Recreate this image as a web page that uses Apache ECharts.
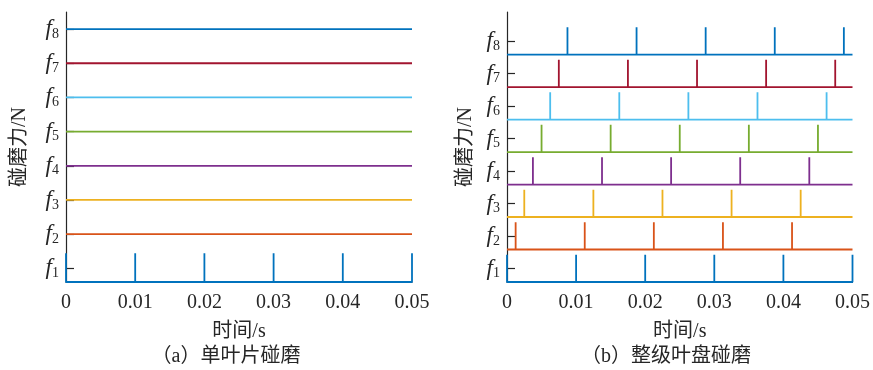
<!DOCTYPE html>
<html>
<head>
<meta charset="utf-8">
<script src="https://cdn.jsdelivr.net/npm/echarts@6/dist/echarts.min.js"></script>
<style>html,body{margin:0;padding:0;background:#fff}#c{width:873px;height:370px}</style>
</head>
<body>
<div id="c"></div>
<script>
// ---- data ----
var forceLevels = [1, 2, 3, 4, 5, 6, 7, 8];            // f1..f8 tick positions
var xTicks = [0, 0.01, 0.02, 0.03, 0.04, 0.05];
var seriesColors = ['#0072BD', '#D95319', '#EDB120', '#7E2F8E', '#77AC30', '#4DBEEE', '#A2142F', '#0072BD'];

// (a) single blade rub: only f1 has impacts, the others stay flat
var singleSpikes = [
  [0, 0.01, 0.02, 0.03, 0.04, 0.05],
  [], [], [], [], [], [], []
];
var singleBase = [0.6, 2, 3, 4, 5, 6, 7, 8];
var singlePeak = [1.44, 2, 3, 4, 5, 6, 7, 8];

// (b) whole bladed disk rub: impact times read for each blade
var diskSpikes = [
  [0, 0.01, 0.02, 0.03, 0.04, 0.05],
  [0.00125, 0.01125, 0.02125, 0.03125, 0.04125],
  [0.0025, 0.0125, 0.0225, 0.0325, 0.0425],
  [0.00375, 0.01375, 0.02375, 0.03375, 0.04375],
  [0.005, 0.015, 0.025, 0.035, 0.045],
  [0.00625, 0.01625, 0.02625, 0.03625, 0.04625],
  [0.0075, 0.0175, 0.0275, 0.0375, 0.0475],
  [0.00875, 0.01875, 0.02875, 0.03875, 0.04875]
];
var diskBase = [0.59, 1.59, 2.59, 3.59, 4.59, 5.59, 6.59, 7.59];
var diskPeak = [1.43, 2.43, 3.43, 4.43, 5.43, 6.43, 7.43, 8.43];

// ---- build ----
function spikeLine(times, base, peak, xmin, xmax) {
  var pts = [[xmin, base]];
  times.forEach(function (t) {
    pts.push([t, base]); pts.push([t, peak]); pts.push([t, base]);
  });
  pts.push([xmax, base]);
  return pts;
}
var serif = '"Liberation Serif", "Noto Sans CJK SC"';
var txt = '#262626';

function xAxisOpt(gi) {
  return {
    type: 'value', gridIndex: gi, min: 0, max: 0.05, interval: 0.01,
    name: '时间/s', nameLocation: 'middle', nameGap: 40,
    nameTextStyle: { fontFamily: serif, fontSize: 20, color: txt },
    axisLine: { show: true, lineStyle: { color: txt, width: 1.2 } },
    axisTick: { show: false },
    splitLine: { show: false },
    axisLabel: {
      margin: 11, fontFamily: serif, fontSize: 20, color: txt,
      customValues: xTicks,
      formatter: function (v) { return v === 0 ? '0' : v.toFixed(2); }
    }
  };
}
function yAxisOpt(gi, mn, mx, gap) {
  return {
    type: 'value', gridIndex: gi, min: mn, max: mx,
    name: '碰磨力/N', nameLocation: 'middle', nameGap: gap, nameRotate: 90,
    nameTextStyle: { fontFamily: serif, fontSize: 20, color: txt },
    axisLine: { show: true, lineStyle: { color: txt, width: 1.2 } },
    axisTick: { show: true, inside: true, length: 8, customValues: forceLevels, lineStyle: { color: txt, width: 1.2 } },
    splitLine: { show: false },
    axisLabel: {
      customValues: forceLevels, margin: 7,
      formatter: function (v) { return '{i|f}{s|' + v + '}'; },
      rich: {
        i: { fontFamily: serif, fontStyle: 'italic', fontSize: 23, color: txt, lineHeight: 26 },
        s: { fontFamily: serif, fontSize: 14, color: txt, lineHeight: 26, padding: [10, 0, 0, 0] }
      }
    }
  };
}

var series = [];
forceLevels.forEach(function (lv, k) {
  series.push({
    type: 'line', xAxisIndex: 0, yAxisIndex: 0, showSymbol: false, silent: true,
    data: spikeLine(singleSpikes[k], singleBase[k], singlePeak[k], 0, 0.05),
    lineStyle: { color: seriesColors[k], width: 1.8 }, itemStyle: { color: seriesColors[k] }
  });
});
forceLevels.forEach(function (lv, k) {
  series.push({
    type: 'line', xAxisIndex: 1, yAxisIndex: 1, showSymbol: false, silent: true,
    data: spikeLine(diskSpikes[k], diskBase[k], diskPeak[k], 0, 0.05),
    lineStyle: { color: seriesColors[k], width: 1.8 }, itemStyle: { color: seriesColors[k] }
  });
});

var chart = echarts.init(document.getElementById('c'), null, { renderer: 'canvas' });
chart.setOption({
  animation: false,
  backgroundColor: '#fff',
  grid: [
    { left: 66, top: 12, width: 346, height: 270 },
    { left: 507, top: 12, width: 347, height: 270 }
  ],
  xAxis: [xAxisOpt(0), xAxisOpt(1)],
  yAxis: [yAxisOpt(0, 0.6, 8.5, 36), yAxisOpt(1, 0.59, 8.9, 31)],
  series: series,
  graphic: [
    { type: 'text', x: 226, y: 357, style: { text: '（a）单叶片碰磨', fontFamily: serif, fontSize: 20, fill: txt, align: 'center', verticalAlign: 'middle' } },
    { type: 'text', x: 666, y: 357, style: { text: '（b）整级叶盘碰磨', fontFamily: serif, fontSize: 20, fill: txt, align: 'center', verticalAlign: 'middle' } }
  ]
});
</script>
</body>
</html>
